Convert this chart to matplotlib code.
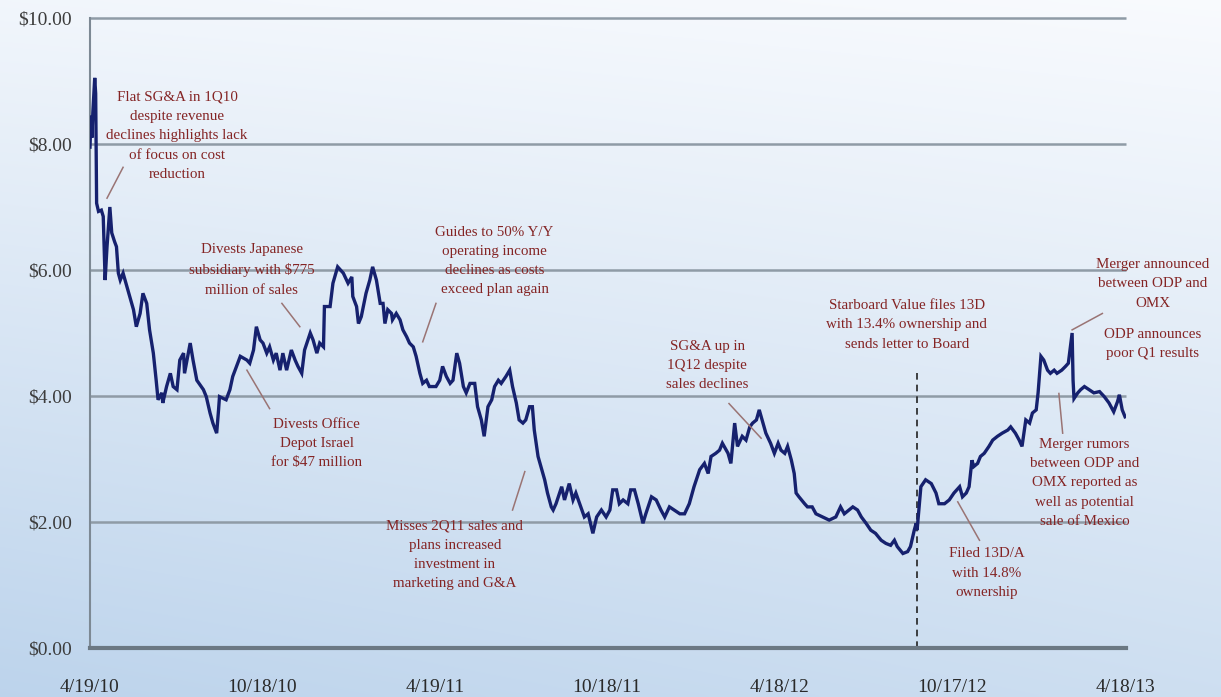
import numpy as np
import matplotlib
matplotlib.use("Agg")
import matplotlib.pyplot as plt

# ---------------- data ----------------
start_date = np.datetime64("2010-04-19")
day_offsets = [
    0, 1, 2, 3, 5, 6, 7, 9, 12, 14, 16, 18, 21, 23, 26, 28, 30, 32, 35, 39,
    42, 46, 49, 53, 56, 60, 63, 67, 70, 72, 76, 77, 81, 85, 88, 92, 95, 99, 100, 106,
    109, 113, 120, 123, 127, 130, 134, 136, 137, 144, 148, 151, 159, 166, 169, 173, 176, 180, 183, 187,
    190, 194, 197, 201, 204, 208, 213, 217, 220, 224, 227, 233, 236, 240, 243, 247, 248, 254, 257, 262,
    268, 273, 277, 278, 282, 284, 287, 292, 296, 299, 303, 307, 310, 312, 315, 319, 320, 324, 328, 331,
    335, 338, 342, 345, 349, 352, 356, 359, 366, 370, 373, 377, 381, 384, 388, 391, 395, 398, 402, 407,
    410, 414, 417, 421, 425, 428, 432, 435, 440, 444, 447, 451, 454, 458, 461, 465, 468, 470, 474, 477,
    481, 484, 488, 490, 493, 499, 502, 507, 511, 514, 518, 523, 527, 532, 536, 541, 546, 550, 553, 557,
    560, 564, 569, 572, 576, 580, 585, 588, 594, 599, 604, 608, 613, 618, 624, 629, 634, 639, 645, 650,
    654, 657, 662, 666, 669, 675, 678, 682, 685, 690, 694, 698, 701, 705, 708, 712, 715, 720, 724, 728,
    731, 735, 738, 742, 745, 747, 750, 756, 759, 764, 768, 775, 782, 789, 794, 798, 803, 807, 812, 816,
    821, 826, 831, 837, 842, 847, 851, 854, 860, 865, 868, 872, 874, 875, 879, 884, 890, 895, 898, 904,
    909, 914, 920, 923, 927, 930, 933, 935, 939, 942, 946, 951, 955, 960, 965, 971, 974, 979, 983, 986,
    990, 994, 997, 1001, 1003, 1006, 1009, 1013, 1016, 1020, 1023, 1028, 1032, 1035, 1039, 1040, 1041, 1045, 1048, 1052,
    1057, 1062, 1068, 1073, 1078, 1083, 1087, 1089, 1092, 1095,
]
prices = [
    7.95, 8.45, 8.10, 8.50, 9.05, 8.80, 7.06, 6.93, 6.95, 6.85, 5.84, 6.37, 7.00, 6.59, 6.45, 6.37, 5.95, 5.84, 5.95, 5.74,
    5.58, 5.37, 5.10, 5.31, 5.63, 5.47, 5.05, 4.68, 4.25, 3.94, 4.05, 3.89, 4.15, 4.36, 4.15, 4.10, 4.57, 4.68, 4.36, 4.84,
    4.57, 4.25, 4.10, 3.99, 3.73, 3.57, 3.41, 3.78, 3.99, 3.94, 4.10, 4.31, 4.63, 4.57, 4.52, 4.73, 5.10, 4.89, 4.84, 4.68,
    4.78, 4.57, 4.68, 4.41, 4.68, 4.41, 4.73, 4.57, 4.47, 4.36, 4.73, 5.00, 4.89, 4.68, 4.84, 4.78, 5.42, 5.42, 5.79, 6.05,
    5.95, 5.79, 5.89, 5.58, 5.42, 5.15, 5.26, 5.63, 5.84, 6.05, 5.84, 5.47, 5.47, 5.15, 5.37, 5.31, 5.21, 5.31, 5.21, 5.05,
    4.94, 4.84, 4.78, 4.63, 4.36, 4.20, 4.25, 4.15, 4.15, 4.25, 4.47, 4.31, 4.20, 4.25, 4.68, 4.52, 4.15, 4.05, 4.20, 4.20,
    3.83, 3.62, 3.36, 3.83, 3.94, 4.15, 4.25, 4.20, 4.31, 4.41, 4.15, 3.89, 3.62, 3.57, 3.62, 3.83, 3.83, 3.46, 3.04, 2.88,
    2.67, 2.46, 2.24, 2.19, 2.29, 2.56, 2.35, 2.61, 2.35, 2.46, 2.29, 2.08, 2.13, 1.82, 2.08, 2.19, 2.08, 2.19, 2.51, 2.51,
    2.29, 2.35, 2.29, 2.51, 2.51, 2.29, 1.98, 2.13, 2.40, 2.35, 2.19, 2.08, 2.24, 2.19, 2.13, 2.13, 2.29, 2.56, 2.83, 2.93,
    2.77, 3.04, 3.09, 3.14, 3.25, 3.09, 2.93, 3.57, 3.20, 3.36, 3.30, 3.51, 3.57, 3.62, 3.78, 3.57, 3.41, 3.25, 3.09, 3.25,
    3.14, 3.09, 3.20, 2.98, 2.77, 2.46, 2.40, 2.29, 2.24, 2.24, 2.13, 2.08, 2.03, 2.08, 2.24, 2.13, 2.19, 2.24, 2.19, 2.08,
    1.98, 1.87, 1.82, 1.71, 1.66, 1.63, 1.71, 1.61, 1.50, 1.53, 1.61, 1.87, 1.98, 1.87, 2.56, 2.67, 2.61, 2.46, 2.29, 2.29,
    2.35, 2.46, 2.56, 2.40, 2.46, 2.56, 2.98, 2.88, 2.93, 3.04, 3.09, 3.20, 3.30, 3.36, 3.41, 3.46, 3.51, 3.41, 3.30, 3.20,
    3.62, 3.57, 3.73, 3.78, 4.05, 4.63, 4.57, 4.41, 4.36, 4.41, 4.36, 4.41, 4.47, 4.52, 5.00, 4.25, 3.96, 4.05, 4.10, 4.15,
    4.10, 4.05, 4.07, 3.99, 3.89, 3.75, 3.91, 4.02, 3.78, 3.67,
]
tick_dates = ["2010-04-19", "2010-10-18", "2011-04-19", "2011-10-18",
              "2012-04-18", "2012-10-17", "2013-04-18"]
tick_labels = ["4/19/10", "10/18/10", "4/19/11", "10/18/11",
               "4/18/12", "10/17/12", "4/18/13"]
y_ticks = [0, 2, 4, 6, 8, 10]
y_labels = ["$0.00", "$2.00", "$4.00", "$6.00", "$8.00", "$10.00"]

starboard_date = "2012-09-10"

annotation_texts = [
    "Flat SG&A in 1Q10\ndespite revenue\ndeclines highlights lack\nof focus on cost\nreduction",
    "Divests Japanese\nsubsidiary with $775\nmillion of sales",
    "Divests Office\nDepot Israel\nfor $47 million",
    "Guides to 50% Y/Y\noperating income\ndeclines as costs\nexceed plan again",
    "Misses 2Q11 sales and\nplans increased\ninvestment in\nmarketing and G&A",
    "SG&A up in\n1Q12 despite\nsales declines",
    "Starboard Value files 13D\nwith 13.4% ownership and\nsends letter to Board",
    "Filed 13D/A\nwith 14.8%\nownership",
    "Merger announced\nbetween ODP and\nOMX",
    "ODP announces\npoor Q1 results",
    "Merger rumors\nbetween ODP and\nOMX reported as\nwell as potential\nsale of Mexico",
]
# layout: (text day, text price), leader line (day1, p1, day2, p2) or None
annotation_layout = [
    ((92, 8.13), (35, 7.63, 18, 7.14)),
    ((171, 6.0), (203, 5.47, 222, 5.10)),
    ((240, 3.25), (166, 4.41, 190, 3.80)),
    ((428, 6.14), (366, 5.47, 352, 4.86)),
    ((386, 1.48), (460, 2.80, 447, 2.19)),
    ((653, 4.48), (676, 3.88, 710, 3.33)),
    ((864, 5.13), None),
    ((949, 1.19), (918, 2.32, 941, 1.71)),
    ((1124, 5.78), (1071, 5.31, 1039, 5.05)),
    ((1124, 4.83), None),
    ((1052, 2.62), (1029, 3.41, 1025, 4.04)),
]

# ---------------- figure ----------------
W, H = 1221, 697
fig = plt.figure(figsize=(W / 100, H / 100), dpi=100)

# gradient background
bg = fig.add_axes([0, 0, 1, 1], zorder=-10)
gh, gw = 240, 420
yy = np.linspace(0, 1, gh)[:, None]
xx = np.linspace(0, 1, gw)[None, :]
t = yy * (0.72 + 0.28 * (1 - xx)) + 0.12 * (1 - xx) * (1 - yy)
t = np.clip(t, 0, 1)
top_c = np.array([0.975, 0.983, 0.995])
bot_c = np.array([0.74, 0.83, 0.925])
img = top_c[None, None, :] * (1 - t[..., None]) + bot_c[None, None, :] * t[..., None]
bg.imshow(img, aspect="auto", extent=[0, 1, 0, 1], interpolation="bicubic")
bg.set_axis_off()

left, right = 90 / W, 1126 / W
bottom, top = 1 - 648 / H, 1 - 18 / H
ax = fig.add_axes([left, bottom, right - left, top - bottom])
ax.patch.set_alpha(0)

serif = ["Liberation Serif", "DejaVu Serif"]
text_color = "#842424"

x = start_date + np.array(day_offsets).astype("timedelta64[D]")
xmin = np.datetime64(tick_dates[0])
xmax = np.datetime64(tick_dates[-1]) + np.timedelta64(1, "D")

ax.hlines(y_ticks[1:], xmin, xmax, colors="#8f9ba6", linewidth=1.8, zorder=1, clip_on=False)
ax.plot(x, prices, color="#16216e", linewidth=2.4, zorder=3, solid_joinstyle="miter")

ax.set_xlim(xmin, xmax)
ax.set_ylim(0, 10)

ax.set_yticks(y_ticks)
ax.set_yticklabels(y_labels, fontfamily=serif, fontsize=14, color="#3c3c3c")
ax.set_xticks(np.array(tick_dates, dtype="datetime64[D]"))
ax.set_xticklabels(tick_labels, fontfamily=serif, fontsize=14, color="#2a2a2a")
ax.tick_params(axis="y", length=0, pad=13)
ax.tick_params(axis="x", length=0, pad=22)

for s in ["top", "right"]:
    ax.spines[s].set_visible(False)
ax.spines["left"].set_color("#7d8994")
ax.spines["left"].set_linewidth(1.5)
ax.spines["bottom"].set_color("#6b7883")
ax.spines["bottom"].set_linewidth(3)

# Starboard dashed line
sd = np.datetime64(starboard_date)
ax.plot([sd, sd], [0, 4.38], color="#222222", linewidth=1.2, linestyle=(0, (4, 3)), zorder=2)

for txt, (tpos, leader) in zip(annotation_texts, annotation_layout):
    tx = start_date + np.timedelta64(int(tpos[0]), "D")
    ax.text(tx, tpos[1], txt, ha="center", va="center", fontfamily=serif,
            fontsize=10.8, color=text_color, linespacing=1.62, zorder=5, clip_on=False)
    if leader is not None:
        d1, p1, d2, p2 = leader
        ax.plot([start_date + np.timedelta64(d1, "D"), start_date + np.timedelta64(d2, "D")],
                [p1, p2], color="#9a7474", linewidth=1.1, zorder=4)

fig.savefig("out.png", dpi=100)
